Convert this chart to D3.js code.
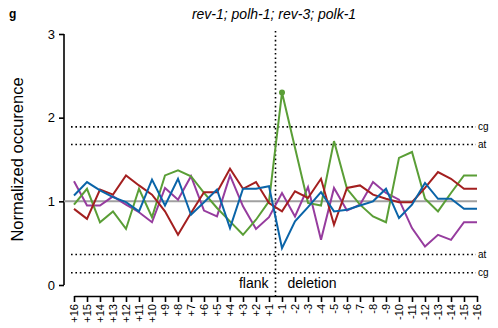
<!DOCTYPE html>
<html>
<head>
<meta charset="utf-8">
<script src="https://cdn.jsdelivr.net/npm/d3@7"></script>
<style>
  body { margin: 0; background: #fff; }
  svg { font-family: "Liberation Sans", Arial, sans-serif; }
</style>
</head>
<body>
<div id="graph"></div>
<script>
// x categories: flank positions then deletion positions
const flank = ["+16","+15","+14","+13","+12","+11","+10","+9","+8","+7","+6","+5","+4","+3","+2","+1"];
const deletion = ["-1","-2","-3","-4","-5","-6","-7","-8","-9","-10","-11","-12","-13","-14","-15","-16"];
const categories = flank.concat(deletion);

const blue   = [1.07,1.23,1.13,1.05,0.99,0.88,1.26,0.95,1.27,0.84,0.99,1.14,0.68,1.15,1.15,1.18,
                0.44,0.76,0.93,1.11,0.88,0.90,0.95,1.00,1.15,0.80,0.96,1.22,1.03,1.03,0.91,0.91];
const red    = [0.91,0.79,1.14,1.08,1.31,1.19,1.08,0.88,0.60,0.86,1.11,1.11,1.39,1.15,1.23,0.98,
                0.88,1.12,1.04,1.27,0.72,1.16,1.19,1.08,1.03,0.99,0.99,1.16,1.35,1.27,1.15,1.15];
const green  = [0.96,1.15,0.75,0.88,0.67,1.15,0.81,1.31,1.37,1.30,1.10,0.92,0.76,0.60,0.78,1.00,
                2.30,1.64,0.98,0.95,1.72,1.15,0.96,0.82,0.75,1.52,1.59,1.03,0.88,1.10,1.31,1.31];
const purple = [1.24,0.95,0.95,1.06,0.96,0.87,0.75,1.16,1.02,1.30,0.89,0.82,1.31,0.94,0.67,0.81,
                1.10,0.82,1.17,0.54,1.16,0.89,0.96,1.23,1.10,1.02,0.68,0.46,0.60,0.54,0.75,0.75];

const yTicks = [0, 1, 2, 3];
const refValues = [1.89, 1.68, 0.365, 0.147];
const refLabels = ["cg", "at", "at", "cg"];

const w = 498;
const h = 328;

const xScale = d3.scalePoint()
                 .domain(categories)
                 .range([74, 477]);
const yScale = d3.scaleLinear()
                 .domain([0, 3])
                 .range([285, 34]);

const svg = d3.select("#graph")
              .append("svg")
              .attr("width", w)
              .attr("height", h);

// panel letter and title
svg.append("text")
   .attr("x", 9).attr("y", 18)
   .attr("font-size", 12).attr("font-weight", "bold")
   .text("g");
svg.append("text")
   .attr("x", 274).attr("y", 19)
   .attr("text-anchor", "middle")
   .attr("font-size", 14).attr("font-style", "italic")
   .text("rev-1; polh-1; rev-3; polk-1");

// y axis
const yAxis = d3.axisLeft(yScale).tickValues(yTicks).tickFormat(d3.format("d")).tickSize(5).tickPadding(4);
svg.append("g")
   .attr("id", "y-axis")
   .attr("transform", "translate(64, 0)")
   .call(yAxis)
   .call(g => g.select(".domain").attr("d", "M0," + yScale(3) + "V" + yScale(0)).attr("stroke-width", 1.6))
   .call(g => g.selectAll(".tick line").attr("stroke-width", 1.6))
   .call(g => g.selectAll("text").attr("font-size", 13).attr("font-family", "Liberation Sans, Arial, sans-serif"));

svg.append("text")
   .attr("transform", "translate(23, " + yScale(1.5) + ") rotate(-90)")
   .attr("text-anchor", "middle")
   .attr("font-size", 16.5)
   .text("Normalized occurence");

// x axis
const xAxis = d3.axisBottom(xScale).tickSize(6).tickSizeOuter(0).tickPadding(0);
svg.append("g")
   .attr("id", "x-axis")
   .attr("transform", "translate(0, 296)")
   .call(xAxis)
   .call(g => g.select(".domain").attr("stroke-width", 1.6))
   .call(g => g.selectAll(".tick line").attr("stroke-width", 1.6))
   .call(g => g.selectAll("text")
               .attr("font-size", 11)
               .attr("font-family", "Liberation Sans, Arial, sans-serif")
               .attr("text-anchor", "end")
               .attr("dy", "0.35em")
               .attr("transform", "translate(0, 8) rotate(-90)")
               .attr("x", 0).attr("y", 0));

// reference dotted lines
const refG = svg.append("g");
refValues.forEach((v, i) => {
  refG.append("line")
      .attr("x1", 71).attr("x2", 476)
      .attr("y1", yScale(v)).attr("y2", yScale(v))
      .attr("stroke", "#000").attr("stroke-width", 1.6)
      .attr("stroke-dasharray", "1.6,2.8");
  refG.append("text")
      .attr("x", 478).attr("y", yScale(v))
      .attr("dy", "0.35em")
      .attr("font-size", 10)
      .text(refLabels[i]);
});

// boundary between flank and deletion
const xMid = (xScale("+1") + xScale("-1")) / 2;
svg.append("line")
   .attr("x1", xMid).attr("x2", xMid)
   .attr("y1", 31).attr("y2", 296)
   .attr("stroke", "#000").attr("stroke-width", 1.6)
   .attr("stroke-dasharray", "1.6,2.8");
svg.append("text")
   .attr("x", xMid - 7).attr("y", 288)
   .attr("text-anchor", "end").attr("font-size", 14)
   .text("flank");
svg.append("text")
   .attr("x", xMid + 12).attr("y", 288)
   .attr("font-size", 14)
   .text("deletion");

// baseline at 1
svg.append("line")
   .attr("x1", 64).attr("x2", 477)
   .attr("y1", yScale(1)).attr("y2", yScale(1))
   .attr("stroke", "#a0a0a0").attr("stroke-width", 2);

// series
const line = d3.line()
               .x((d, i) => xScale(categories[i]))
               .y(d => yScale(d));
const series = [
  { values: purple, color: "#963c9e" },
  { values: green,  color: "#5a9e36" },
  { values: red,    color: "#a31f1f" },
  { values: blue,   color: "#0a64a8" }
];
svg.selectAll(".series")
   .data(series)
   .enter()
   .append("path")
   .attr("class", "series")
   .attr("d", d => line(d.values))
   .attr("fill", "none")
   .attr("stroke", d => d.color)
   .attr("stroke-width", 2)
   .attr("stroke-linejoin", "miter");

// marker at the green peak
const peak = d3.maxIndex(green);
svg.append("circle")
   .attr("cx", xScale(categories[peak]))
   .attr("cy", yScale(green[peak]))
   .attr("r", 3)
   .attr("fill", "#5a9e36");
</script>
</body>
</html>
